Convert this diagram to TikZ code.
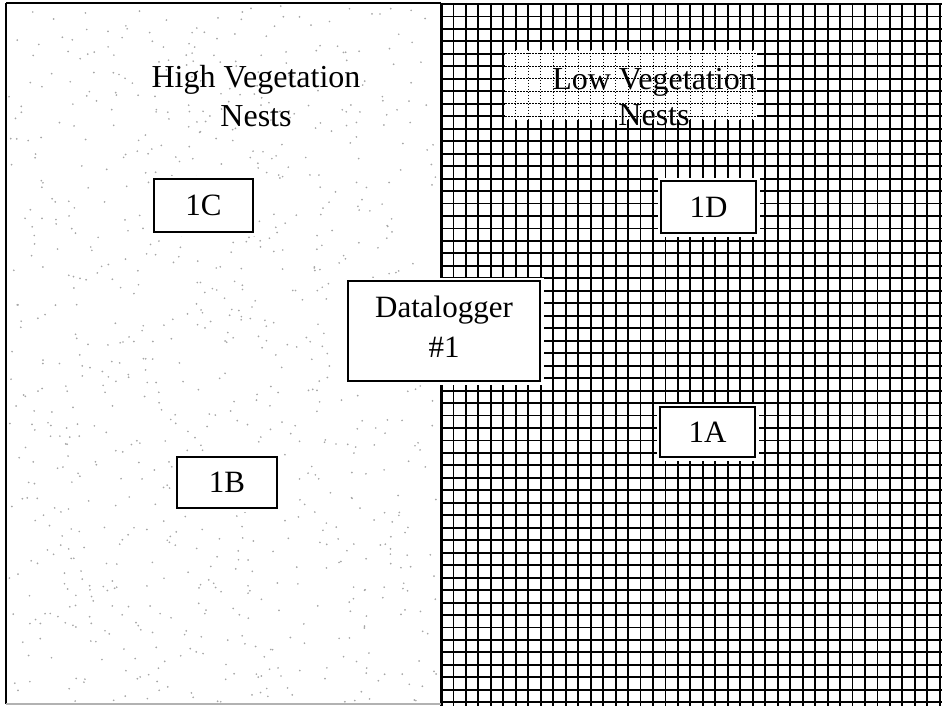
\documentclass[tikz,border=0pt]{standalone}
\usepackage{fontspec}
\setmainfont{Liberation Serif}
\begin{document}
\begin{tikzpicture}[x=1pt,y=-1pt,
  gridline/.style={line width=1.9pt, black},
  fineline/.style={line width=0.9pt, black, dash pattern=on 1.5pt off 1.5pt},
  nestbox/.style={draw, line width=1.8pt, fill=white, inner sep=0pt,
    font=\fontsize{31}{40}\selectfont,
    preaction={draw=white, line width=7pt}},
  label/.style={align=center, inner sep=0pt}]
\useasboundingbox (0,0) rectangle (942,706);
% left stipple
\pgfmathsetseed{7}
\foreach \i in {1,...,900}{
  \pgfmathsetmacro\rx{9+rnd*428}
  \pgfmathsetmacro\ry{6+rnd*696}
  \fill[gray!70] (\rx,\ry) circle (0.95pt);
}
% right grid
\foreach \k in {0,...,40} \draw[gridline] ({441+\k*12.47},3) -- ({441+\k*12.47},706);
\foreach \k in {0,...,56} \draw[gridline] (441,{4+\k*12.47}) -- (942,{4+\k*12.47});
\draw[line width=3pt] (441,3) -- (441,706);
% label area with fine dotted grid
\fill[white] (505,50) rectangle (757,120);
\foreach \k in {6,...,25} \draw[fineline] ({441+\k*12.47},50) -- ({441+\k*12.47},120);
\foreach \k in {4,...,9} \draw[fineline] (505,{4+\k*12.47}) -- (757,{4+\k*12.47});
% frame
\draw[line width=2.5pt] (6,3) -- (6,704);
\draw[line width=2pt] (6,3) -- (441,3);
\draw[gray!60, line width=1.5pt] (6,704) -- (441,704);
% labels
\node[label, font=\fontsize{32}{39}\selectfont] (high) at (256,96.5) {High Vegetation\\Nests};
\node[label, font=\fontsize{32}{36}\selectfont] (low) at (654,97.5) {Low Vegetation\\Nests};
% boxes
\node[nestbox, minimum width=99pt, minimum height=53pt] (n1c) at (203.5,205.5) {1C};
\node[nestbox, minimum width=95pt, minimum height=52pt] (n1d) at (708.5,207) {1D};
\node[nestbox, minimum width=95pt, minimum height=50pt] (n1a) at (707.5,432) {1A};
\node[nestbox, minimum width=100pt, minimum height=51pt] (n1b) at (227,482.5) {1B};
\node[nestbox, align=center, minimum width=192pt, minimum height=100pt] (dl) at (444,331) {Datalogger\\\#1\rule[-8pt]{0pt}{8pt}};
\end{tikzpicture}
\end{document}
